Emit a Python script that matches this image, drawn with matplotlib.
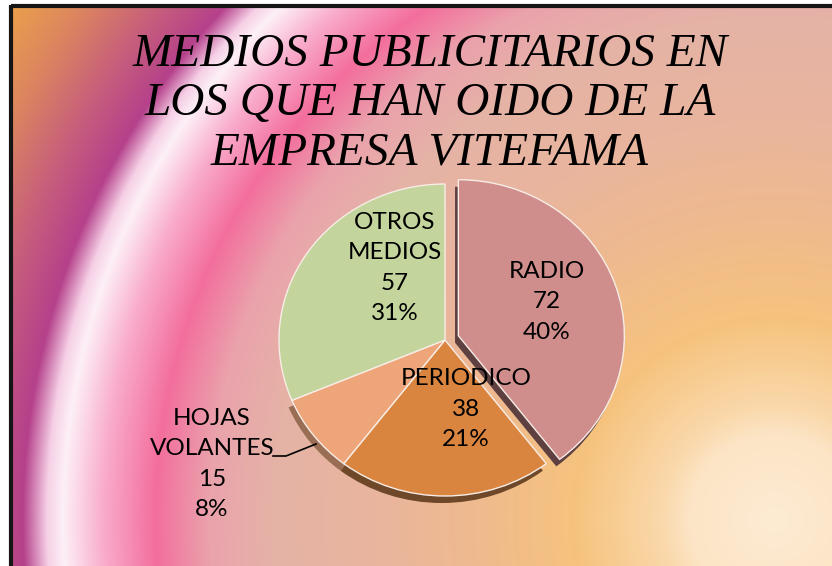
import numpy as np
import matplotlib
matplotlib.use("Agg")
import matplotlib.pyplot as plt
from matplotlib.colors import to_rgb

# ---- data ----
categories = ["RADIO", "PERIODICO", "HOJAS\nVOLANTES", "OTROS\nMEDIOS"]
values = [72, 38, 15, 57]
title = "MEDIOS PUBLICITARIOS EN\nLOS QUE HAN OIDO DE LA\nEMPRESA VITEFAMA"

# ---- style ----
colors = ["#CF8D8C", "#DA853F", "#EEA57A", "#C3D49C"]
shadow_colors = ["#5E4040", "#6E4828", "#9A6E55", "none"]
explode = [0.085, 0, 0, 0]
W, H = 832, 566
# label centres in pixel coords (x, y from top)
label_pos = [(547, 302), (466, 409), (212, 464), (395, 268)]

fig = plt.figure(figsize=(W / 100, H / 100), dpi=100)
fig.patch.set_facecolor("white")

# ---- background radial gradient ----
bg = fig.add_axes([0, 0, 1, 1], zorder=0)
bg.set_xlim(0, W)
bg.set_ylim(H, 0)
bg.axis("off")
x0, y0 = 12, 7
xs = np.arange(x0, W) + 0.5
ys = np.arange(y0, H) + 0.5
X, Y = np.meshgrid(xs, ys)
D = np.hypot(X - 775, Y - 520)
stops = [
    (0, "#FDEBD3"), (85, "#FCE5C6"), (115, "#FAD8AA"), (200, "#F6C37E"),
    (300, "#EFBA8E"), (400, "#E9B59E"), (500, "#E5B3A6"), (565, "#EAA3AC"),
    (620, "#F36E9D"), (672, "#F9ACCC"), (712, "#FDF0F7"), (728, "#F6D0E6"),
    (752, "#B5418B"), (800, "#C65E7C"), (860, "#DC8460"), (930, "#EDA548"),
    (1200, "#EFA845"),
]
sd = np.array([s[0] for s in stops], float)
sc = np.array([to_rgb(s[1]) for s in stops])
img = np.dstack([np.interp(D, sd, sc[:, k]) for k in range(3)])
bg.imshow(img, extent=(x0, W, H, y0), interpolation="bilinear", aspect="auto")
bg.plot([x0 - 1.5, W], [y0 - 1, y0 - 1], color="#151515", lw=3, solid_capstyle="butt")
bg.plot([x0 - 1.5, x0 - 1.5], [y0 - 2.5, H], color="#151515", lw=3, solid_capstyle="butt")

# ---- pie (slightly squashed vertically) ----
cx, cy = 445, 340
rx, ry = 166, 156
pa = fig.add_axes([0, 0, 1, 1], zorder=1)
pa.patch.set_alpha(0)
# shadow / depth layer
pa.pie(values, colors=shadow_colors, startangle=90, counterclock=False,
       explode=explode, center=(-0.02, -0.045),
       wedgeprops=dict(linewidth=0))
wedges, _ = pa.pie(values, colors=colors, startangle=90, counterclock=False,
                   explode=explode,
                   wedgeprops=dict(linewidth=1.0, edgecolor="#F7EDE6"))
pa.set_aspect("auto")
pa.set_xlim(-cx / rx, (W - cx) / rx)
pa.set_ylim(-(H - cy) / ry, cy / ry)
pa.axis("off")

# ---- overlay: title, labels, leader line ----
ov = fig.add_axes([0, 0, 1, 1], zorder=2)
ov.patch.set_alpha(0)
ov.set_xlim(0, W)
ov.set_ylim(H, 0)
ov.axis("off")

ov.text(430, 104, title, ha="center", va="center", fontsize=34,
        family="Liberation Serif", style="italic", color="black",
        linespacing=1.2)

total = sum(values)
for name, v, (lx, ly) in zip(categories, values, label_pos):
    pct = round(100 * v / total)
    ov.text(lx, ly, f"{name}\n{v}\n{pct}%", ha="center", va="center",
            fontsize=17.5, family="Lato", color="black", linespacing=1.55)

ov.plot([273, 286, 316], [456, 456, 444], color="black", lw=1.2)

fig.savefig("out.png", dpi=100)
